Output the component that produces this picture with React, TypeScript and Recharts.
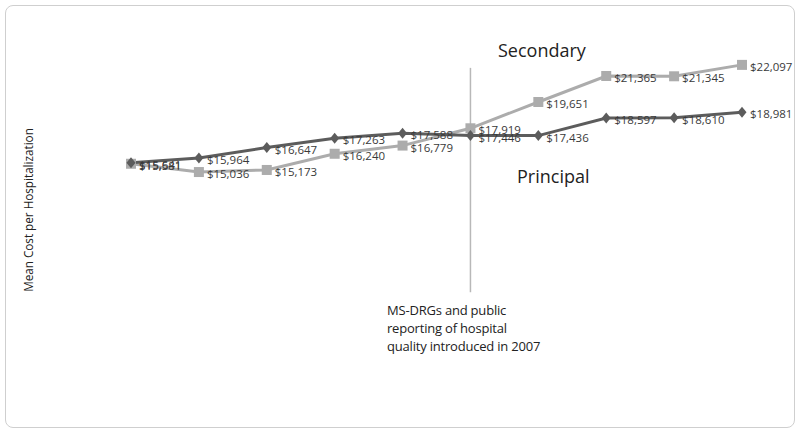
import React from 'react';
import { LineChart, Line, XAxis, YAxis, ReferenceLine, LabelList } from 'recharts';

const years = ['2002', '2003', '2004', '2005', '2006', '2007', '2008', '2009', '2010', '2011'];
const principal = [15641, 15964, 16647, 17263, 17588, 17446, 17436, 18597, 18610, 18981];
const secondary = [15581, 15036, 15173, 16240, 16779, 17919, 19651, 21365, 21345, 22097];
const policyYear = '2007';

const data = years.map((year, i) => ({ year, principal: principal[i], secondary: secondary[i] }));

const font = '"Open Sans", "Noto Sans", sans-serif';

const renderDiamond = (p: any) => {
    const { cx, cy, index } = p;
    if (cx == null || cy == null) return <g key={`d-${index}`} />;
    const r = 5.5;
    return (
        <path
            key={`d-${index}`}
            d={`M${cx},${cy - r}L${cx + r - 1},${cy}L${cx},${cy + r}L${cx - r + 1},${cy}Z`}
            fill="#5c5c5c"
        />
    );
};

const renderSquare = (p: any) => {
    const { cx, cy, index } = p;
    if (cx == null || cy == null) return <g key={`s-${index}`} />;
    return <rect key={`s-${index}`} x={cx - 5} y={cy - 5} width={10} height={10} fill="#acacac" />;
};

const renderLabel = (p: any) => {
    const { x, y, value, index } = p;
    return (
        <text
            key={`l-${index}-${value}`}
            x={x + 8}
            y={y + 3}
            dominantBaseline="middle"
            fontSize={11.5}
            fontFamily={font}
            fill="#3a3a3a"
        >
            {'$' + Number(value).toLocaleString('en-US')}
        </text>
    );
};

export default function App() {
    return (
        <div style={{ position: 'relative', width: 800, height: 432, background: '#fff' }}>
            <style>{`body{margin:0}`}</style>
            <div
                style={{
                    position: 'absolute',
                    left: 5,
                    top: 5,
                    width: 788,
                    height: 421,
                    border: '1.5px solid #cfcfcf',
                    borderRadius: 8,
                }}
            />
            <LineChart
                width={800}
                height={432}
                data={data}
                margin={{ top: 36, right: 58, left: 131, bottom: 138 }}
            >
                <XAxis dataKey="year" hide />
                <YAxis hide domain={[7000, 24000]} />
                <ReferenceLine
                    segment={[{ x: policyYear, y: 21900 }, { x: policyYear, y: 7116 }]}
                    stroke="#b8b8b8"
                    strokeWidth={1.5}
                    ifOverflow="visible"
                />
                <Line
                    dataKey="secondary"
                    stroke="#acacac"
                    strokeWidth={3}
                    dot={renderSquare}
                    activeDot={false}
                    isAnimationActive={false}
                >
                    <LabelList dataKey="secondary" content={renderLabel} />
                </Line>
                <Line
                    dataKey="principal"
                    stroke="#5c5c5c"
                    strokeWidth={3}
                    dot={renderDiamond}
                    activeDot={false}
                    isAnimationActive={false}
                >
                    <LabelList dataKey="principal" content={renderLabel} />
                </Line>
            </LineChart>
            <div
                style={{
                    position: 'absolute',
                    left: 28,
                    top: 210,
                    transform: 'translate(-50%, -50%) rotate(-90deg)',
                    fontFamily: font,
                    fontSize: 11.7,
                    color: '#222',
                    whiteSpace: 'nowrap',
                }}
            >
                Mean Cost per Hospitalization
            </div>
            <div
                style={{
                    position: 'absolute',
                    left: 498,
                    top: 38,
                    fontFamily: font,
                    fontSize: 18,
                    color: '#222',
                }}
            >
                Secondary
            </div>
            <div
                style={{
                    position: 'absolute',
                    left: 517,
                    top: 164,
                    fontFamily: font,
                    fontSize: 18,
                    color: '#222',
                }}
            >
                Principal
            </div>
            <div
                style={{
                    position: 'absolute',
                    left: 387,
                    top: 301,
                    fontFamily: font,
                    fontSize: 13,
                    lineHeight: '18px',
                    letterSpacing: -0.2,
                    color: '#222',
                }}
            >
                MS-DRGs and public
                <br />
                reporting of hospital
                <br />
                quality introduced in 2007
            </div>
        </div>
    );
}
